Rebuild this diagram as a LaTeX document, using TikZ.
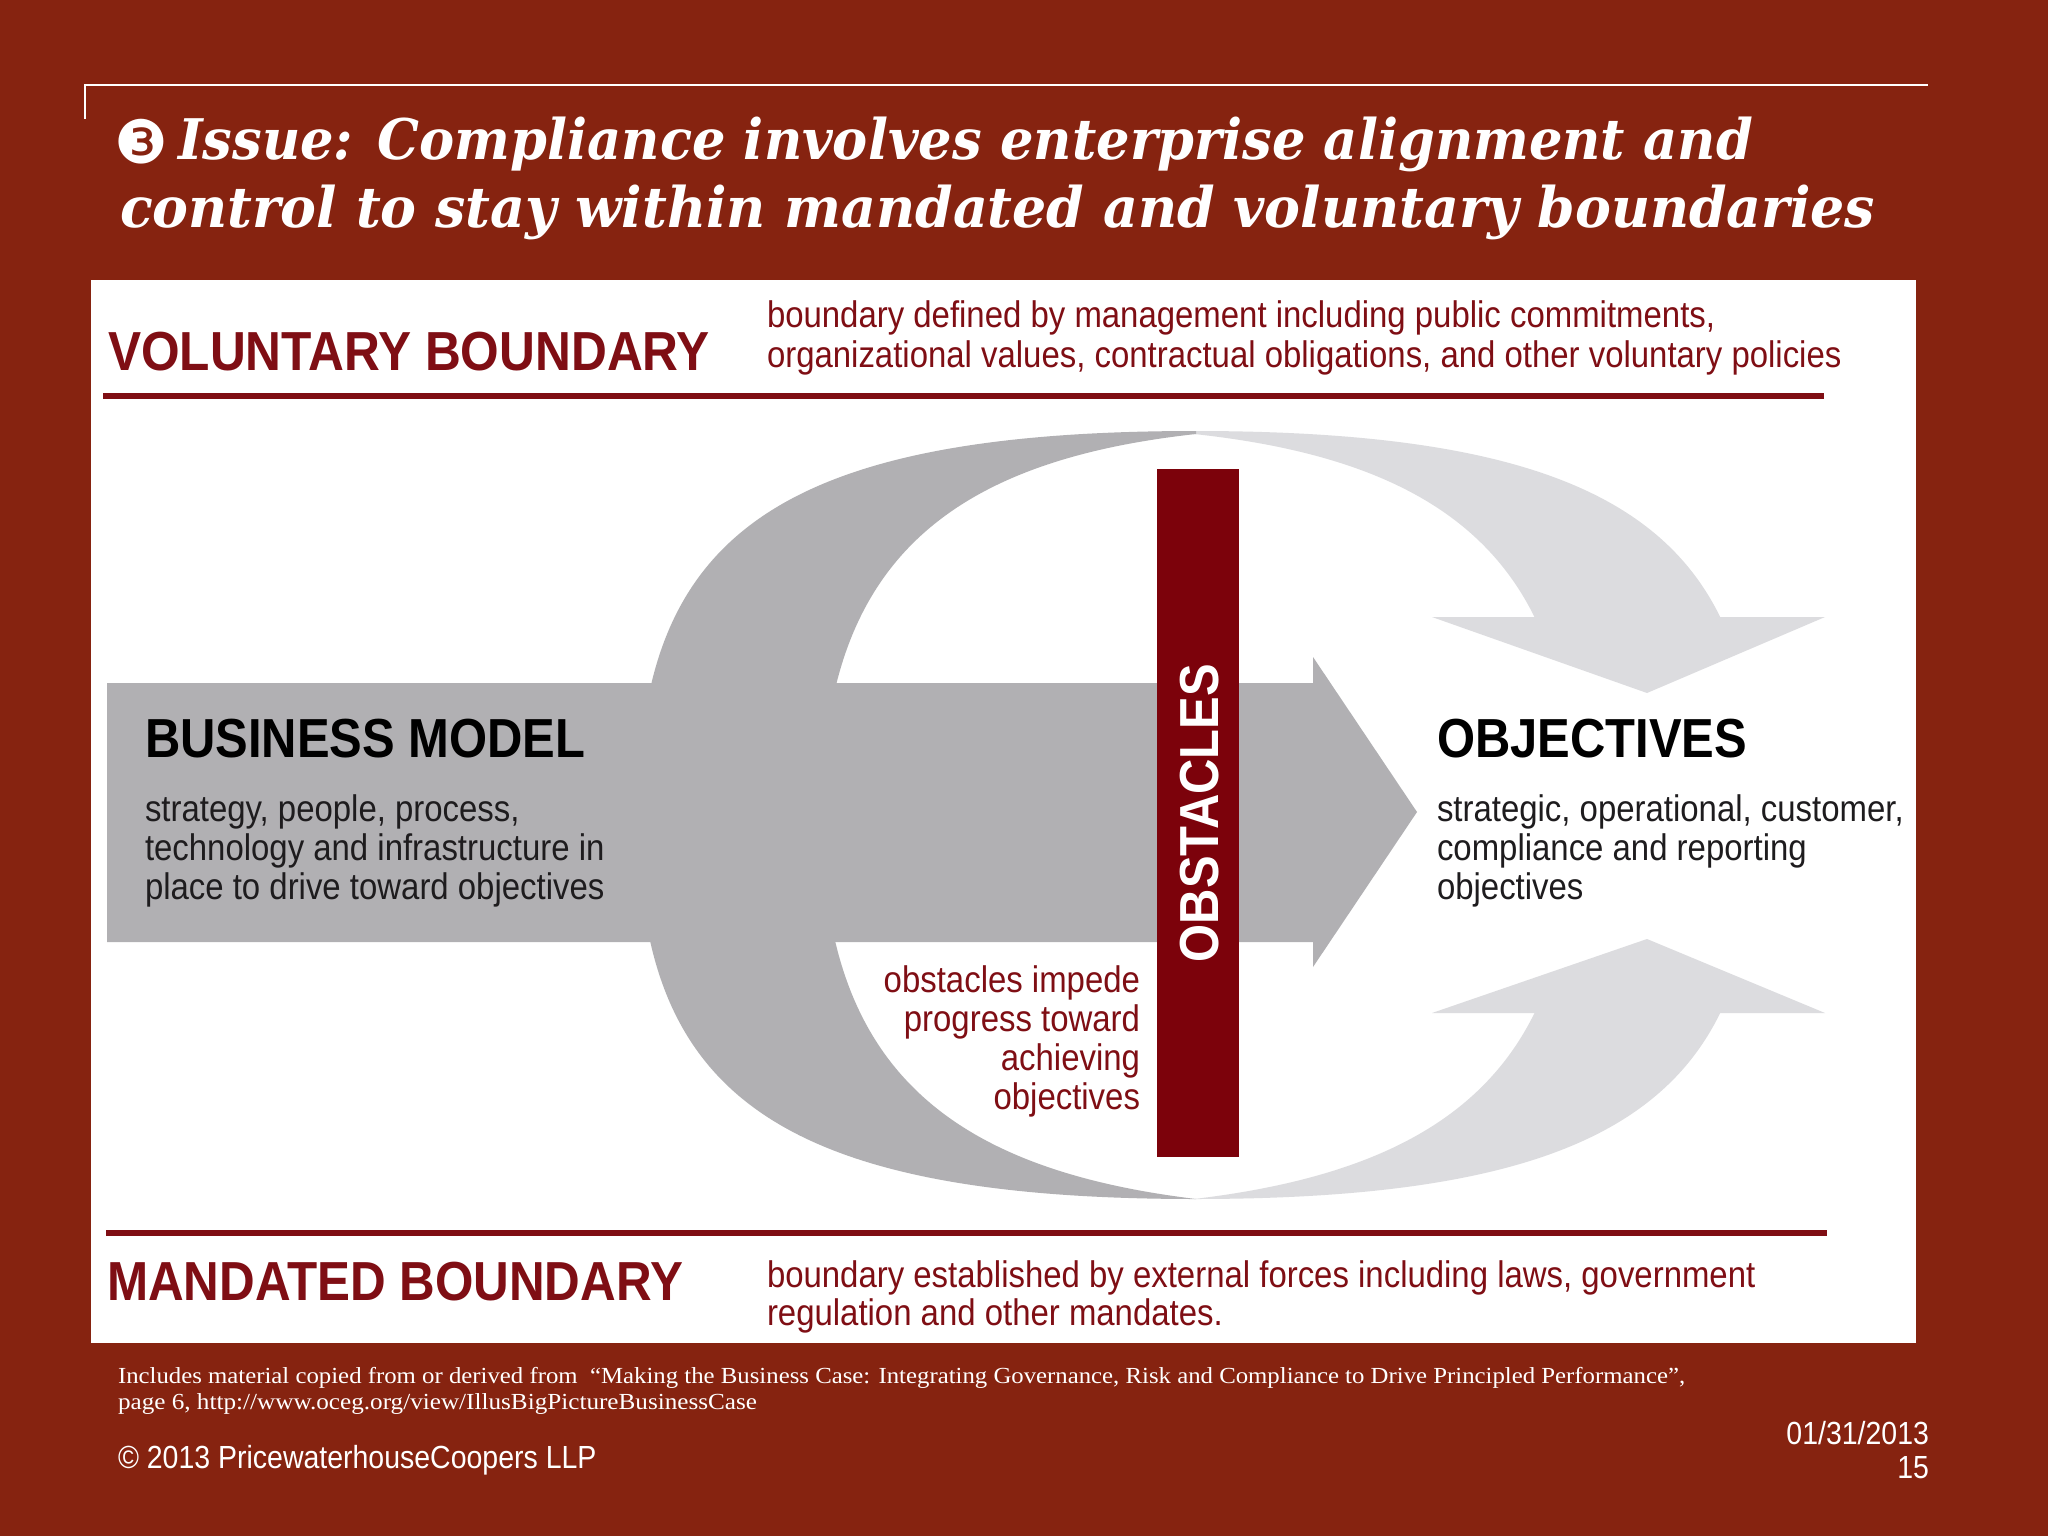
\documentclass[tikz,border=0pt]{standalone}
\usepackage{fontspec}
\usepackage{graphicx}
\setmainfont{Liberation Sans}[FakeStretch=0.89]
\newfontfamily\titlefont{DejaVu Serif}
\newfontfamily\dingfont{DejaVu Sans}
\newfontfamily\notefont{Liberation Serif}
\definecolor{bgred}{RGB}{134,35,16}
\definecolor{bred}{RGB}{127,14,20}
\definecolor{obsred}{RGB}{124,2,11}
\definecolor{dgray}{RGB}{177,176,179}
\definecolor{lgray}{RGB}{220,220,223}
\definecolor{bodyc}{RGB}{30,28,30}
\tikzset{
  txt/.style={inner sep=0pt, outer sep=0pt, anchor=base west},
  hdr/.style={txt, text=bred, font=\bfseries\fontsize{55}{60}\selectfont},
  hdrk/.style={txt, text=black, font=\bfseries\fontsize{55}{60}\selectfont},
  desc/.style={txt, text=bred, font=\fontsize{37}{40}\selectfont},
  bodyt/.style={txt, text=bodyc, font=\fontsize{37}{40}\selectfont},
  obsd/.style={inner sep=0pt, outer sep=0pt, anchor=base east, text=bred, font=\fontsize{37}{40}\selectfont},
  ttl/.style={txt, text=white, font=\titlefont\bfseries\itshape\fontsize{56}{60}\selectfont},
  note/.style={txt, text=white, font=\notefont\fontsize{23}{26}\selectfont},
  foot/.style={txt, text=white, font=\fontsize{32}{34}\selectfont},
  bline/.style={draw=bred, line width=6pt},
}
\begin{document}
\begin{tikzpicture}[x=1pt,y=-1pt]
\useasboundingbox (0,0) rectangle (2048,1536);
\fill[bgred] (0,0) rectangle (2048,1536);
% title frame
\draw[white, line width=2.5pt] (85,119) -- (85,85) -- (1928,85);
\node[txt, text=white, font=\dingfont\fontsize{60}{60}\selectfont] (num) at (114,164) {❸};
\node[ttl] (t1) at (178,160) {\resizebox{1575pt}{\height}{Issue: Compliance involves enterprise alignment and}};
\node[ttl] (t2) at (120,227) {\resizebox{1755pt}{\height}{control to stay within mandated and voluntary boundaries}};
% panel
\fill[white] (91,280) rectangle (1916,1343);
% boundary lines
\draw[bline] (103,395.5) -- (1824,395.5);
\draw[bline] (106,1233) -- (1827,1233);
% light crescent (right)
\begin{scope}
\clip (1150,400) rectangle (1900,618) (1150,1012) rectangle (1900,1230);
\fill[lgray] (1194,431) .. controls (1632,431) and (1757,545) .. (1757,815)
  .. controls (1757,1085) and (1632,1199) .. (1194,1199)
  .. controls (1455,1168) and (1573,1060) .. (1573,815)
  .. controls (1573,570) and (1455,462) .. (1194,434) -- cycle;
\end{scope}
\fill[lgray] (1432,617) -- (1825,617) -- (1647,693) -- cycle;
\fill[lgray] (1432,1013) -- (1825,1013) -- (1647,939) -- cycle;
% dark crescent (left)
\fill[dgray] (1196,431) .. controls (763,431) and (638,545) .. (638,815)
  .. controls (638,1085) and (763,1199) .. (1196,1199)
  .. controls (940,1168) and (822,1060) .. (822,815)
  .. controls (822,570) and (940,462) .. (1196,434) -- cycle;
% main arrow
\fill[dgray] (107,683) -- (1313,683) -- (1313,657) -- (1417,812) -- (1313,967) -- (1313,942) -- (107,942) -- cycle;
% obstacles bar
\fill[obsred] (1157,469) rectangle (1239,1157);
\node[rotate=90, inner sep=0pt, text=white, font=\bfseries\fontsize{55}{60}\selectfont] (obs) at (1200,813) {OBSTACLES};
% headers
\node[hdr] (vb) at (108,370) {\resizebox{602pt}{\height}{VOLUNTARY BOUNDARY}};
\node[desc] (vb1) at (767,327) {boundary defined by management including public commitments,};
\node[desc] (vb2) at (767,367) {organizational values, contractual obligations, and other voluntary policies};
\node[hdr] (mb) at (107,1300) {\resizebox{576pt}{\height}{MANDATED BOUNDARY}};
\node[desc] (mb1) at (767,1287) {boundary established by external forces including laws, government};
\node[desc] (mb2) at (767,1325) {regulation and other mandates.};
% business model
\node[hdrk] (bm) at (145,757) {BUSINESS MODEL};
\node[bodyt] (bm1) at (145,821) {strategy, people, process,};
\node[bodyt] (bm2) at (145,860) {technology and infrastructure in};
\node[bodyt] (bm3) at (145,899) {place to drive toward objectives};
% objectives
\node[hdrk] (ob) at (1437,757) {OBJECTIVES};
\node[bodyt] (ob1) at (1437,821) {strategic, operational, customer,};
\node[bodyt] (ob2) at (1437,860) {compliance and reporting};
\node[bodyt] (ob3) at (1437,899) {objectives};
% obstacles description
\node[obsd] (od1) at (1140,992) {obstacles impede};
\node[obsd] (od2) at (1140,1031) {progress toward};
\node[obsd] (od3) at (1140,1070) {achieving};
\node[obsd] (od4) at (1140,1109) {objectives};
% footer
\node[note] (n1) at (118,1383) {\resizebox{1567pt}{\height}{Includes material copied from or derived from\ \ “Making the Business Case: Integrating Governance, Risk and Compliance to Drive Principled Performance”,}};
\node[note] (n2) at (118,1409) {\resizebox{639pt}{\height}{page 6, http://www.oceg.org/view/IllusBigPictureBusinessCase}};
\node[foot] (cp) at (118,1468) {© 2013 PricewaterhouseCoopers LLP};
\node[foot, anchor=base east] (dt) at (1929,1444) {01/31/2013};
\node[foot, anchor=base east] (pg) at (1929,1478) {15};
\end{tikzpicture}
\end{document}
